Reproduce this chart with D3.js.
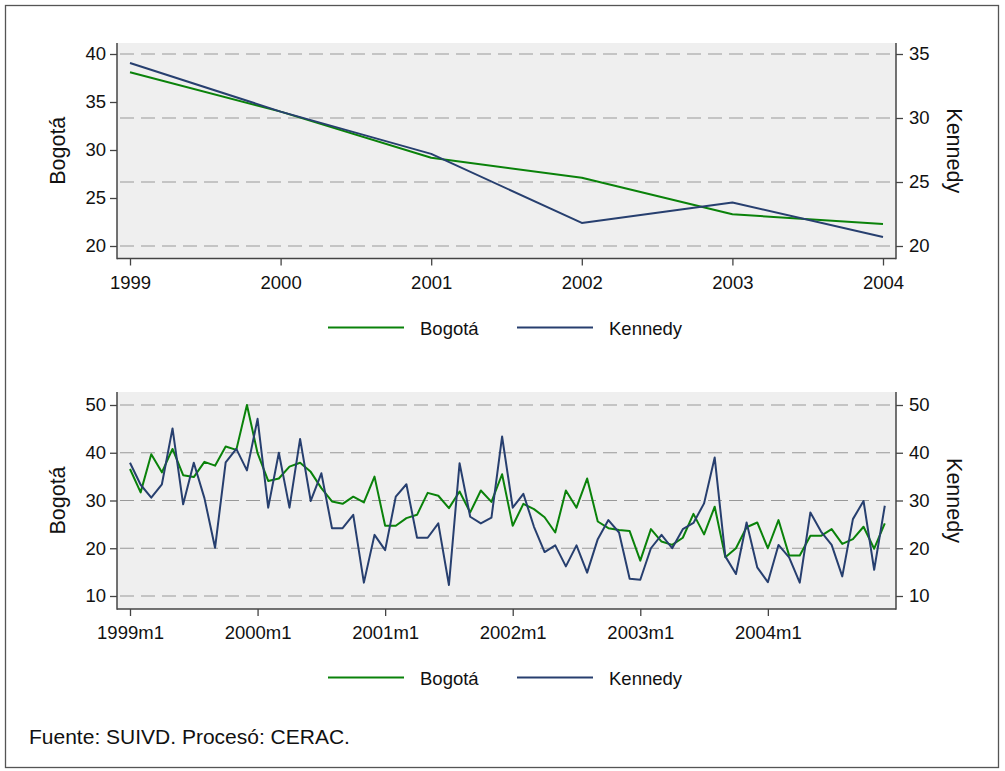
<!DOCTYPE html>
<html><head><meta charset="utf-8">
<script src="https://cdn.jsdelivr.net/npm/d3@7"></script>
<style>
html,body{margin:0;padding:0;background:#fff;}
svg{display:block;font-family:"Liberation Sans",Arial,sans-serif;}
</style></head>
<body><svg id="c" width="1005" height="771"></svg>
<script>
// ---- Data ----
const years = [1999, 2000, 2001, 2002, 2003, 2004];
const bogotaYear = [38.1, 34.0, 29.2, 27.1, 23.3, 22.3];
const kennedyYear = [34.3, 30.5, 27.2, 21.8, 23.4, 20.7];

// monthly, 1999m1 .. 2004m12 (index 0..71)
const bogotaMonth = [
 36.6, 31.7, 39.7, 35.9, 40.8, 35.3, 34.9, 38.1, 37.3, 41.3, 40.6, 50.0,
 39.9, 34.1, 34.6, 37.1, 37.9, 36.0, 32.6, 29.8, 29.3, 30.8, 29.6, 35.0,
 24.7, 24.7, 26.3, 27.0, 31.6, 31.0, 28.4, 31.9, 27.5, 32.1, 29.7, 35.5,
 24.7, 29.3, 28.2, 26.5, 23.3, 32.1, 28.5, 34.6, 25.6, 24.2, 23.8, 23.6,
 17.4, 24.0, 21.4, 20.7, 22.2, 27.2, 22.9, 28.7, 18.1, 20.0, 24.4, 25.4,
 20.0, 25.9, 18.5, 18.5, 22.6, 22.6, 24.0, 20.9, 21.9, 24.5, 19.9, 25.2
];
const kennedyMonth = [
 37.9, 33.3, 30.6, 33.4, 45.1, 29.2, 37.9, 30.5, 20.1, 38.0, 40.8, 36.3,
 47.1, 28.5, 40.0, 28.5, 42.9, 29.9, 35.7, 24.2, 24.2, 27.0, 12.8, 22.8,
 19.6, 30.8, 33.4, 22.2, 22.2, 25.2, 12.3, 37.8, 26.6, 25.2, 26.4, 43.4,
 28.5, 31.4, 24.5, 19.2, 20.6, 16.2, 20.6, 14.9, 21.9, 25.9, 23.3, 13.6,
 13.4, 20.0, 22.8, 20.0, 24.0, 25.3, 29.4, 39.0, 18.3, 14.6, 25.4, 16.0,
 12.9, 20.7, 18.1, 12.8, 27.5, 23.5, 20.7, 14.1, 26.1, 29.9, 15.5, 28.9
];
const monthTicks = [0, 12, 24, 36, 48, 60];
const monthTickLabels = ["1999m1", "2000m1", "2001m1", "2002m1", "2003m1", "2004m1"];

const topLeftTicks = [20, 25, 30, 35, 40];
const topRightTicks = [20, 25, 30, 35];
const botTicks = [10, 20, 30, 40, 50];

const seriesNames = ["Bogotá", "Kennedy"];
const colors = ["#0a820a", "#273f6f"];
const sourceText = "Fuente: SUIVD. Procesó: CERAC.";

// ---- Drawing ----
const svg = d3.select("#c");
svg.append("rect").attr("x",0).attr("y",0).attr("width",1005).attr("height",771).attr("fill","#fff");
svg.append("rect").attr("x",5.5).attr("y",5.5).attr("width",993).attr("height",762)
  .attr("fill","none").attr("stroke","#555").attr("stroke-width",1.3);

const AX = "#444";
const FS = 18.5;

function panel(o) {
  const g = svg.append("g");
  const L = 117, R = 896, T = o.top, B = o.bottom;
  g.append("rect").attr("x",L).attr("y",T).attr("width",R-L).attr("height",B-T).attr("fill","#efefef");

  const x = d3.scaleLinear().domain(o.xDomain).range(o.xRange);
  const yL = d3.scaleLinear().domain(o.yLDomain).range(o.yRange);
  const yR = d3.scaleLinear().domain(o.yRDomain).range(o.yRange);

  // grid (right axis ticks)
  g.selectAll("line.grid").data(o.gridTicks).enter().append("line")
    .attr("x1",L+1).attr("x2",R-1).attr("y1",d=>yR(d)).attr("y2",d=>yR(d))
    .attr("stroke","#999").attr("stroke-width",1.2).attr("stroke-dasharray","14,7")
    .attr("stroke-dashoffset",-2);

  // axes
  const axL = d3.axisLeft(yL).tickValues(o.leftTicks).tickSize(7).tickPadding(4).tickFormat(d3.format("d"));
  const axR = d3.axisRight(yR).tickValues(o.rightTicks).tickSize(7).tickPadding(6).tickFormat(d3.format("d"));
  const axB = d3.axisBottom(x).tickValues(o.xTicks).tickSize(7).tickPadding(10).tickFormat(o.xFormat);
  [[axL,`translate(${L},0)`],[axR,`translate(${R},0)`],[axB,`translate(0,${B})`]].forEach(([a,t])=>{
    const ag = g.append("g").attr("transform",t).call(a);
    ag.select(".domain").remove();
    ag.selectAll("line").attr("stroke",AX).attr("stroke-width",1.3);
    ag.selectAll("text").attr("fill","#111").style("font-size",FS+"px").style("font-family","Liberation Sans, Arial, sans-serif");
  });
  g.append("line").attr("x1",L).attr("x2",L).attr("y1",T).attr("y2",B+0.7).attr("stroke",AX).attr("stroke-width",1.5);
  g.append("line").attr("x1",R).attr("x2",R).attr("y1",T).attr("y2",B+0.7).attr("stroke",AX).attr("stroke-width",1.5);
  g.append("line").attr("x1",L).attr("x2",R).attr("y1",B).attr("y2",B).attr("stroke",AX).attr("stroke-width",1.5);

  // lines
  const lnL = d3.line().x((d,i)=>x(o.xs[i])).y(d=>yL(d));
  const lnR = d3.line().x((d,i)=>x(o.xs[i])).y(d=>yR(d));
  g.append("path").attr("d",lnL(o.s1)).attr("fill","none").attr("stroke",colors[0]).attr("stroke-width",2).attr("stroke-linejoin","round");
  g.append("path").attr("d",lnR(o.s2)).attr("fill","none").attr("stroke",colors[1]).attr("stroke-width",2).attr("stroke-linejoin","round");

  // axis titles
  const cy = (T+B)/2;
  g.append("text").attr("transform",`translate(65,${cy}) rotate(-90)`).attr("text-anchor","middle")
    .style("font-size","21.5px").attr("fill","#111").text(seriesNames[0]);
  g.append("text").attr("transform",`translate(947,${cy}) rotate(90)`).attr("text-anchor","middle")
    .style("font-size","21.5px").attr("fill","#111").text(seriesNames[1]);

  // legend
  const ly = o.legendY;
  const items = [{x1:328,x2:404,tx:420},{x1:517,x2:593,tx:609}];
  items.forEach((it,k)=>{
    g.append("line").attr("x1",it.x1).attr("x2",it.x2).attr("y1",ly).attr("y2",ly)
      .attr("stroke",colors[k]).attr("stroke-width",2);
    g.append("text").attr("x",it.tx).attr("y",ly+7).style("font-size",FS+"px").attr("fill","#111").text(seriesNames[k]);
  });
}

panel({
  top:43, bottom:258.5,
  xDomain:[years[0], years[years.length-1]], xRange:[130,883],
  yLDomain:[20,40], yRDomain:[20,35], yRange:[246,54],
  gridTicks:topRightTicks, leftTicks:topLeftTicks, rightTicks:topRightTicks,
  xTicks:years, xFormat:d3.format("d"), xs:years,
  s1:bogotaYear, s2:kennedyYear, legendY:327.5
});

const monthIdx = bogotaMonth.map((d,i)=>i);
panel({
  top:392, bottom:609,
  xDomain:[0,71], xRange:[130,884.8],
  yLDomain:[10,50], yRDomain:[10,50], yRange:[596,405],
  gridTicks:botTicks, leftTicks:botTicks, rightTicks:botTicks,
  xTicks:monthTicks, xFormat:(d)=>monthTickLabels[monthTicks.indexOf(d)], xs:monthIdx,
  s1:bogotaMonth, s2:kennedyMonth, legendY:677.5
});

svg.append("text").attr("x",29).attr("y",744).style("font-size","21px").attr("fill","#111").text(sourceText);
</script>
</body></html>
